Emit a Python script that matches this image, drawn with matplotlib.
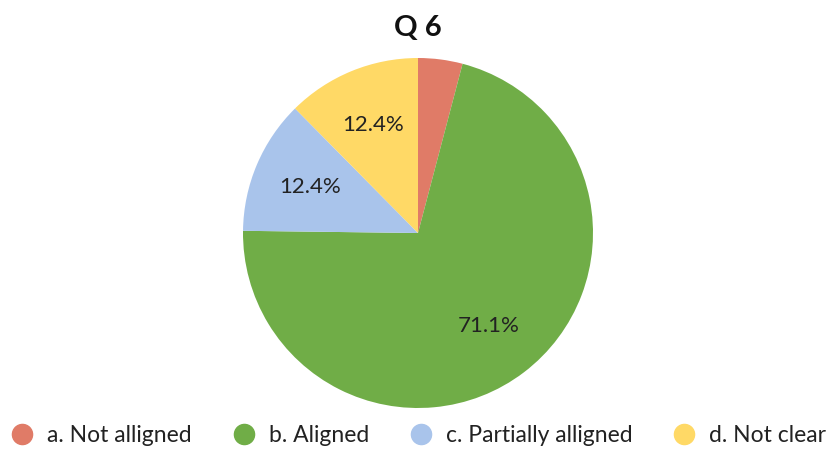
import matplotlib
matplotlib.use("Agg")
import matplotlib.pyplot as plt
from matplotlib.lines import Line2D

plt.rcParams['font.family'] = ['Lato', 'DejaVu Sans']

categories = ["a. Not alligned", "b. Aligned", "c. Partially alligned", "d. Not clear"]
values = [4.1, 71.1, 12.4, 12.4]
colors = ["#E07B67", "#70AD47", "#A9C4EB", "#FFD966"]
title = "Q 6"

W, H = 827, 450
fig = plt.figure(figsize=(W/100, H/100), dpi=100)
cx, cy, r = 418, 233, 175
ax = fig.add_axes([(cx - r)/W, (H - cy - r)/H, 2*r/W, 2*r/H])

def fmt(p):
    return f"{p:.1f}%" if p >= 5 else ""

wedges, texts, autotexts = ax.pie(values, colors=colors, startangle=90, counterclock=False,
                                  autopct=fmt, pctdistance=0.67, radius=1,
                                  wedgeprops=dict(linewidth=0),
                                  textprops=dict(fontsize=16, color="#222222"))
ax.set_xlim(-1, 1)
ax.set_ylim(-1, 1)
ax.set_aspect('equal')
ax.axis('off')

fig.text(cx/W, 1 - 28/H, title, ha='center', va='center', fontsize=21, fontweight='bold', color='#111111')

handles = [Line2D([0], [0], marker='o', linestyle='', markersize=14.5, markerfacecolor=c,
                  markeredgecolor=c) for c in colors]
fig.legend(handles, categories, loc='center', bbox_to_anchor=(0.506, 1 - 436/H), ncol=4,
           frameon=False, fontsize=16.5, handlelength=1.0, handletextpad=0.6,
           columnspacing=1.75, labelcolor='#222222', borderaxespad=0, borderpad=0)

fig.savefig("out.png", dpi=100, facecolor='white')
